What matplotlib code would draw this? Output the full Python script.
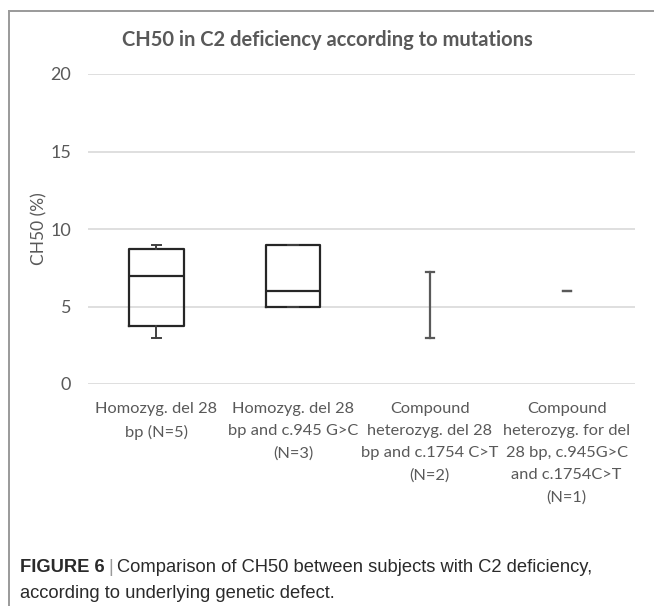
import matplotlib
matplotlib.use("Agg")
import matplotlib.pyplot as plt
from matplotlib.lines import Line2D

categories = [
    "Homozyg. del 28\nbp (N=5)",
    "Homozyg. del 28\nbp and c.945 G>C\n(N=3)",
    "Compound\nheterozyg. del 28\nbp and c.1754 C>T\n(N=2)",
    "Compound\nheterozyg. for del\n28 bp, c.945G>C\nand c.1754C>T\n(N=1)",
]
whis_low = [3.0, 5.0, 3.0, 6.0]
q1 = [3.75, 5.0, 3.0, 6.0]
median = [7.0, 6.0, 3.0, 6.0]
q3 = [8.7, 9.0, 3.0, 6.0]
whis_high = [9.0, 9.0, 7.25, 6.0]
show_box = [True, True, False, False]
yticks = [0, 5, 10, 15, 20]

title = "CH50 in C2 deficiency according to mutations"
ylabel = "CH50 (%)"

W, H = 654, 606
fig = plt.figure(figsize=(W / 100, H / 100), dpi=100)

# outer frame lines
fig.add_artist(Line2D([9 / W, 9 / W], [0, 1 - 11 / H], transform=fig.transFigure,
                      color="#9a9a9a", lw=1.4))
fig.add_artist(Line2D([9 / W, 1], [1 - 11 / H, 1 - 11 / H], transform=fig.transFigure,
                      color="#9a9a9a", lw=1.4))

left, right, top, bottom = 88, 635, 74, 384
ax = fig.add_axes([left / W, 1 - bottom / H, (right - left) / W, (bottom - top) / H])

font = "Lato"
gray = "#595959"

for i in range(len(categories)):
    stats = [dict(whislo=whis_low[i], q1=q1[i], med=median[i], q3=q3[i],
                  whishi=whis_high[i], label="")]
    if show_box[i]:
        col = "#262626"
        ax.bxp(stats, positions=[i], widths=0.4, showfliers=False, showcaps=True,
               boxprops=dict(color=col, lw=1.6),
               medianprops=dict(color=col, lw=1.6),
               whiskerprops=dict(color="#404040", lw=1.4),
               capprops=dict(color="#404040", lw=1.4),
               capwidths=0.07, manage_ticks=False)
    else:
        ax.bxp(stats, positions=[i], widths=0.4, showfliers=False, showbox=False,
               showcaps=True,
               medianprops=dict(visible=False),
               whiskerprops=dict(color="#595959", lw=1.6),
               capprops=dict(color="#595959", lw=1.6),
               capwidths=0.06, manage_ticks=False)

ax.set_xlim(-0.5, len(categories) - 0.5)
ax.set_ylim(0, 20)
ax.set_yticks(yticks)
ax.set_yticklabels([str(t) for t in yticks], fontfamily=font, fontsize=13, color=gray)
ax.set_xticks(range(len(categories)))
ax.set_xticklabels(categories, fontfamily=font, fontsize=11.8, color=gray,
                   linespacing=1.72, va="top")
ax.tick_params(axis="both", length=0)
ax.tick_params(axis="x", pad=13)
ax.tick_params(axis="y", pad=12)
for s in ax.spines.values():
    s.set_visible(False)
ax.grid(axis="y", color="#d9d9d9", lw=1.2)
ax.set_axisbelow(True)
ax.set_ylabel(ylabel, fontfamily=font, fontsize=12.5, color=gray, labelpad=2)

fig.text(327 / W, 1 - 40 / H, title, ha="center", va="center", fontfamily=font,
         fontsize=14.5, fontweight="bold", color=gray)

cap_font = "Liberation Sans"
cap_color = "#2a2a2a"
cap_size = 13.2
y1, y2 = 567, 593
t1 = fig.text(20 / W, 1 - y1 / H, "FIGURE 6", ha="left", va="center",
              fontfamily=cap_font, fontweight="bold", fontsize=cap_size, color=cap_color)
fig.canvas.draw()
bb = t1.get_window_extent()
t2 = fig.text(bb.x1 / W + 4 / W, 1 - y1 / H, "|", ha="left", va="center",
              fontfamily=cap_font, fontsize=cap_size, color="#999999")
fig.canvas.draw()
bb2 = t2.get_window_extent()
fig.text(bb2.x1 / W + 4 / W, 1 - y1 / H,
         "Comparison of CH50 between subjects with C2 deficiency,",
         ha="left", va="center", fontfamily=cap_font, fontsize=cap_size, color=cap_color)
fig.text(20 / W, 1 - y2 / H, "according to underlying genetic defect.",
         ha="left", va="center", fontfamily=cap_font, fontsize=cap_size, color=cap_color)

fig.savefig("out.png", dpi=100)
